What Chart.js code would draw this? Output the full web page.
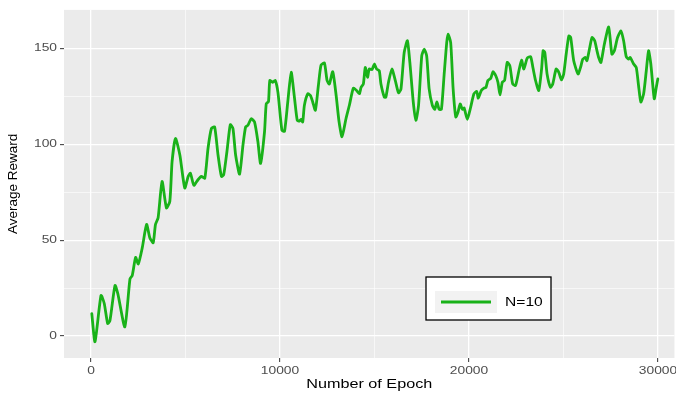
<!DOCTYPE html>
<html><head><meta charset="utf-8">
<script src="https://cdn.jsdelivr.net/npm/chart.js@4/dist/chart.umd.min.js"></script>
<style>html,body{margin:0;padding:0;background:#fff}#wrap{width:676px;height:394px;position:relative}</style>
</head><body><div id="wrap"><canvas id="c" width="676" height="394"></canvas></div>
<script>
const epochs = [40,210,530,700,880,1000,1270,1420,1790,2060,
2180,2360,2500,2710,2940,3110,3290,3410,3550,3760,
3990,4170,4290,4470,4700,4960,5140,5260,5440,5660,
5840,6020,6190,6370,6540,6720,6900,7020,7190,7370,
7510,7650,7860,8040,8180,8300,8480,8650,8830,8970,
9180,9270,9390,9460,9620,9750,9890,10100,10240,10410,
10590,10770,10910,11030,11120,11200,11290,11470,11610,11730,
11870,12030,12170,12350,12490,12610,12790,12970,13120,13280,
13490,13670,13880,14050,14200,14290,14410,14510,14630,14720,
14870,14990,15110,15250,15340,15520,15600,15740,15920,16100,
16270,16400,16570,16740,16870,17050,17190,17330,17500,17630,
17760,17890,18060,18190,18300,18420,18540,18680,18820,18890,
19030,19160,19300,19420,19530,19650,19740,19910,20090,20260,
20410,20490,20650,20790,20900,21000,21150,21270,21410,21530,
21640,21760,21880,22020,22160,22310,22460,22640,22780,22900,
23080,23260,23380,23520,23690,23840,23920,24010,24130,24310,
24430,24610,24750,24890,25010,25140,25280,25380,25540,25770,
25900,26020,26160,26240,26370,26510,26650,26770,26860,26980,
27160,27390,27560,27690,27860,28040,28180,28320,28440,28530,
28710,28850,28970,29090,29240,29380,29500,29620,29800,29910,
29990];
const rewards = [11.7,-2.9,21.2,17,6.6,8,26.4,22,4.8,29.8,
31.5,41,37.6,46,58.2,51.3,48.7,58.2,61.7,80.6,
66.8,70.3,91,103,94.4,77.2,83.2,84.9,78.6,81.5,
83.2,82.3,97.8,108.2,109,94.4,83.2,84.1,96.1,110.2,
108.2,94.4,84.4,99.6,109,109.9,113.3,111.6,101.3,90,
106.5,121,122.3,133.2,132.3,133.2,127,107.3,106.8,122,
137.5,123.7,112.5,112,113,111.6,120.3,126.3,125.4,122,
117.7,130.6,141.2,142.3,133.2,131.4,137.8,125.4,112,103.9,
113.3,120.3,129.2,128,126.3,129.7,131.4,140,134.9,139.2,
138.9,141.8,139.2,138.3,131.4,124.5,124.5,132.3,139.2,133.2,
126.8,128.8,147.8,153.9,142.6,122,112.5,120.3,146.1,149.5,
146,128.8,120.3,118.2,122,118.2,118.2,135.8,153,157.3,
153,128.8,114.2,116.8,121,118.2,118.9,113,119.4,126.3,
127.5,124,128,129.2,129.7,133.2,134.4,137.8,135.8,132.3,
125.7,132.3,133.2,142.6,140.9,131.4,130.6,138.3,143.8,139.2,
144.9,145.6,140,133.2,128,139.2,148.7,147.8,136.6,129.7,
131.4,139.2,137.5,133.5,136.6,146.9,156.4,155.6,143.5,136.6,
140,144.3,145.2,143.5,149.5,155.6,153.9,148.7,145.2,142.6,
152.1,161.1,146.9,148.7,155.6,159,153.9,145.6,144.3,145.2,
141.8,140,130.6,122,126.3,138.3,148.7,141.8,123.7,129.7,
134];
const xTickValues = [0, 10000, 20000, 30000];
const yTickValues = [0, 50, 100, 150];
const seriesName = 'N=10';
const xTitle = 'Number of Epoch';
const yTitle = 'Average Reward';

const lineColor = '#19B219';
const FONT = '"Liberation Sans", Arial, Helvetica, sans-serif';
const TEXT_STRETCH = 1.2;
const points = epochs.map((e, i) => ({x: e, y: rewards[i]}));

function withMinor(major) {
  const out = [];
  for (let i = 0; i < major.length; i++) {
    out.push(major[i]);
    if (i < major.length - 1) out.push((major[i] + major[i + 1]) / 2);
  }
  return out;
}
const isMajor = (arr, v) => arr.some(m => Math.abs(m - v) < 1e-6);

// reference picture has horizontally widened glyphs; widen horizontal text the same way
const wideText = {
  id: 'wideText',
  beforeInit(chart) {
    const ctx = chart.ctx;
    if (ctx.__wide) return;
    ctx.__wide = true;
    const orig = ctx.fillText;
    ctx.fillText = function (t, x, y, mw) {
      const m = this.getTransform();
      const rotated = Math.abs(m.b) > 0.5;
      if (rotated) {
        if (mw !== undefined) return orig.call(this, t, x, y, mw);
        return orig.call(this, t, x, y);
      }
      this.save();
      this.translate(x, y);
      this.scale(TEXT_STRETCH, 1);
      if (mw !== undefined) orig.call(this, t, 0, 0, mw); else orig.call(this, t, 0, 0);
      this.restore();
    };
  }
};

const panelBg = {
  id: 'panelBg',
  beforeDraw(chart) {
    const {ctx, chartArea: a} = chart;
    ctx.save();
    ctx.fillStyle = '#FFFFFF';
    ctx.fillRect(0, 0, chart.width, chart.height);
    ctx.fillStyle = '#EBEBEB';
    ctx.fillRect(a.left, a.top, a.right - a.left, a.bottom - a.top);
    ctx.restore();
  }
};

const ggLegend = {
  id: 'ggLegend',
  afterDraw(chart, args, opts) {
    const ctx = chart.ctx;
    const ds = chart.data.datasets[0];
    ctx.save();
    ctx.fillStyle = '#FFFFFF';
    ctx.fillRect(opts.x, opts.y, opts.w, opts.h);
    ctx.strokeStyle = '#000000';
    ctx.lineWidth = 1.3;
    ctx.strokeRect(opts.x, opts.y, opts.w, opts.h);
    ctx.fillStyle = '#F2F2F2';
    ctx.fillRect(opts.x + 9, opts.y + 14, 62, 22);
    ctx.strokeStyle = ds.borderColor;
    ctx.lineWidth = 2.8;
    ctx.beginPath();
    ctx.moveTo(opts.x + 15, opts.y + 25);
    ctx.lineTo(opts.x + 65, opts.y + 25);
    ctx.stroke();
    ctx.fillStyle = '#000000';
    ctx.font = '13px ' + FONT;
    ctx.textAlign = 'left';
    ctx.textBaseline = 'middle';
    ctx.fillText(ds.label, opts.x + 79, opts.y + 25);
    ctx.restore();
  }
};

new Chart(document.getElementById('c'), {
  type: 'line',
  data: {
    datasets: [{
      label: seriesName,
      data: points,
      borderColor: lineColor,
      backgroundColor: lineColor,
      borderWidth: 2.8,
      pointRadius: 0,
      tension: 0.2,
      borderJoinStyle: 'round',
      borderCapStyle: 'round',
      fill: false
    }]
  },
  plugins: [wideText, panelBg, ggLegend],
  options: {
    responsive: false,
    animation: false,
    devicePixelRatio: 1,
    layout: {padding: {top: 7, right: 0, bottom: 0, left: 0}},
    plugins: {
      legend: {display: false},
      tooltip: {enabled: false},
      ggLegend: {x: 426, y: 277, w: 125, h: 43}
    },
    scales: {
      x: {
        type: 'linear',
        min: -1430,
        max: 30870,
        afterFit(s) { s.height = 36; },
        afterBuildTicks(s) { s.ticks = withMinor(xTickValues).map(v => ({value: v})); },
        ticks: {
          autoSkip: false,
          maxRotation: 0,
          padding: 2,
          color: '#4D4D4D',
          font: {family: FONT, size: 11.5},
          callback: (v) => isMajor(xTickValues, v) ? String(v) : ''
        },
        grid: {
          color: '#FFFFFF',
          lineWidth: (c) => isMajor(xTickValues, c.tick.value) ? 1.3 : 0.6,
          tickColor: (c) => isMajor(xTickValues, c.tick.value) ? '#333333' : 'rgba(0,0,0,0)',
          tickLength: 4,
          tickWidth: 1
        },
        border: {display: false},
        title: {
          display: true,
          text: xTitle,
          color: '#000000',
          font: {family: FONT, size: 13.5},
          padding: {top: 0, bottom: 2}
        }
      },
      y: {
        type: 'linear',
        min: -11.4,
        max: 170,
        afterFit(s) { s.width = 64; },
        afterBuildTicks(s) { s.ticks = withMinor(yTickValues).map(v => ({value: v})); },
        ticks: {
          autoSkip: false,
          padding: 3,
          color: '#4D4D4D',
          font: {family: FONT, size: 11.5},
          callback: (v) => isMajor(yTickValues, v) ? String(v) : ''
        },
        grid: {
          color: '#FFFFFF',
          lineWidth: (c) => isMajor(yTickValues, c.tick.value) ? 1.3 : 0.6,
          tickColor: (c) => isMajor(yTickValues, c.tick.value) ? '#333333' : 'rgba(0,0,0,0)',
          tickLength: 4,
          tickWidth: 1
        },
        border: {display: false},
        title: {
          display: true,
          text: yTitle,
          color: '#000000',
          font: {family: FONT, size: 13.5},
          padding: {top: 5, bottom: 0}
        }
      }
    }
  }
});
</script>
</body></html>
